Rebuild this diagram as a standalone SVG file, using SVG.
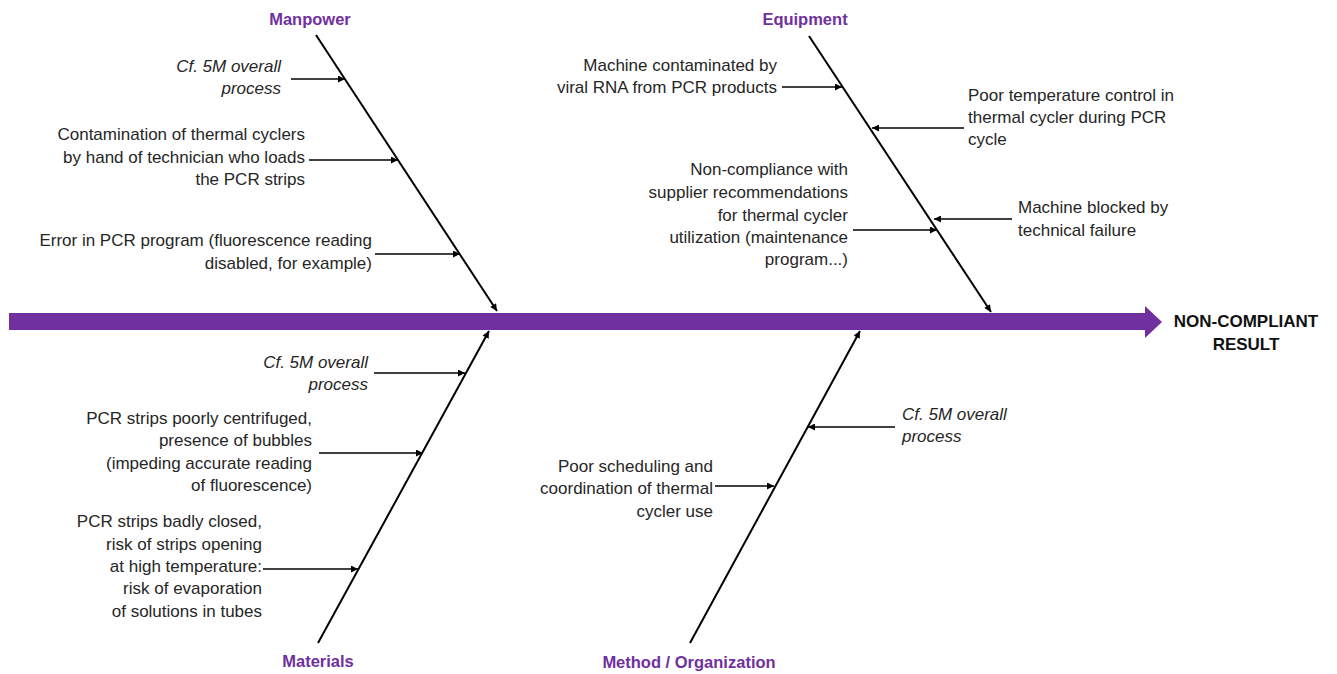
<svg xmlns="http://www.w3.org/2000/svg" width="1337" height="674" viewBox="0 0 1337 674">
<style>
.t{font-family:"Liberation Sans",Arial,sans-serif;font-size:17px;fill:#262626}
.r{text-anchor:end}
.i{font-style:italic}
.cat{font-family:"Liberation Sans",Arial,sans-serif;font-size:16.5px;font-weight:bold;fill:#7030A0;text-anchor:middle}
.res{font-family:"Liberation Sans",Arial,sans-serif;font-size:17px;font-weight:bold;fill:#111;text-anchor:middle}
.bone{stroke:#000;stroke-width:2;fill:none;marker-end:url(#ah)}
.sub{stroke:#000;stroke-width:1.3;fill:none;marker-end:url(#ah)}
</style>
<defs>
<marker id="ah" viewBox="0 0 10 10" refX="10" refY="5" markerWidth="9" markerHeight="7" markerUnits="userSpaceOnUse" orient="auto">
<path d="M0,0 L10,5 L0,10 z" fill="#000"/>
</marker>
</defs>
<rect width="1337" height="674" fill="#fff"/>

<g id="spine">
<path d="M9,313 L1145,313 L1145,306 L1162,322 L1145,338 L1145,330 L9,330 z" fill="#7030A0"/>
</g>

<g id="result">
<text class="res" x="1246" y="327">NON-COMPLIANT</text>
<text class="res" x="1246" y="350">RESULT</text>
</g>

<g id="connectors">
<line class="bone" x1="316" y1="35" x2="497" y2="311"/>
<line class="bone" x1="809" y1="36" x2="991" y2="312"/>
<line class="bone" x1="318" y1="643" x2="489" y2="331"/>
<line class="bone" x1="690" y1="643" x2="860" y2="331"/>
<line class="sub" x1="291" y1="79" x2="345" y2="79"/>
<line class="sub" x1="309" y1="160" x2="398" y2="160"/>
<line class="sub" x1="375" y1="254" x2="460" y2="254"/>
<line class="sub" x1="782" y1="87" x2="842" y2="87"/>
<line class="sub" x1="964" y1="128" x2="872" y2="128"/>
<line class="sub" x1="853" y1="230" x2="937" y2="230"/>
<line class="sub" x1="1012" y1="219" x2="934" y2="219"/>
<line class="sub" x1="374" y1="373" x2="465" y2="373"/>
<line class="sub" x1="319" y1="453" x2="423" y2="453"/>
<line class="sub" x1="263" y1="569" x2="358" y2="569"/>
<line class="sub" x1="895" y1="427" x2="808" y2="427"/>
<line class="sub" x1="715" y1="486" x2="774" y2="486"/>
</g>

<g id="manpower">
<text class="cat" x="310" y="25">Manpower</text>
<text class="t r i" x="281" y="72">Cf. 5M overall</text>
<text class="t r i" x="281" y="94">process</text>
<text class="t r" x="305" y="140">Contamination of thermal cyclers</text>
<text class="t r" x="305" y="163">by hand of technician who loads</text>
<text class="t r" x="305" y="185">the PCR strips</text>
<text class="t r" x="372" y="246">Error in PCR program (fluorescence reading</text>
<text class="t r" x="372" y="269">disabled, for example)</text>
</g>

<g id="equipment">
<text class="cat" x="805" y="25">Equipment</text>
<text class="t r" x="777" y="71">Machine contaminated by</text>
<text class="t r" x="777" y="93">viral RNA from PCR products</text>
<text class="t" x="968" y="101">Poor temperature control in</text>
<text class="t" x="968" y="123">thermal cycler during PCR</text>
<text class="t" x="968" y="145">cycle</text>
<text class="t r" x="848" y="175">Non-compliance with</text>
<text class="t r" x="848" y="198">supplier recommendations</text>
<text class="t r" x="848" y="221">for thermal cycler</text>
<text class="t r" x="848" y="243">utilization (maintenance</text>
<text class="t r" x="848" y="265">program...)</text>
<text class="t" x="1018" y="213">Machine blocked by</text>
<text class="t" x="1018" y="236">technical failure</text>
</g>

<g id="materials">
<text class="cat" x="318" y="667">Materials</text>
<text class="t r i" x="368" y="368">Cf. 5M overall</text>
<text class="t r i" x="368" y="390">process</text>
<text class="t r" x="312" y="424">PCR strips poorly centrifuged,</text>
<text class="t r" x="312" y="446">presence of bubbles</text>
<text class="t r" x="312" y="469">(impeding accurate reading</text>
<text class="t r" x="312" y="491">of fluorescence)</text>
<text class="t r" x="262" y="527">PCR strips badly closed,</text>
<text class="t r" x="262" y="550">risk of strips opening</text>
<text class="t r" x="262" y="572">at high temperature:</text>
<text class="t r" x="262" y="594">risk of evaporation</text>
<text class="t r" x="262" y="617">of solutions in tubes</text>
</g>

<g id="method">
<text class="cat" x="689" y="668">Method / Organization</text>
<text class="t i" x="902" y="420">Cf. 5M overall</text>
<text class="t i" x="902" y="442">process</text>
<text class="t r" x="713" y="472">Poor scheduling and</text>
<text class="t r" x="713" y="494">coordination of thermal</text>
<text class="t r" x="713" y="517">cycler use</text>
</g>
</svg>
